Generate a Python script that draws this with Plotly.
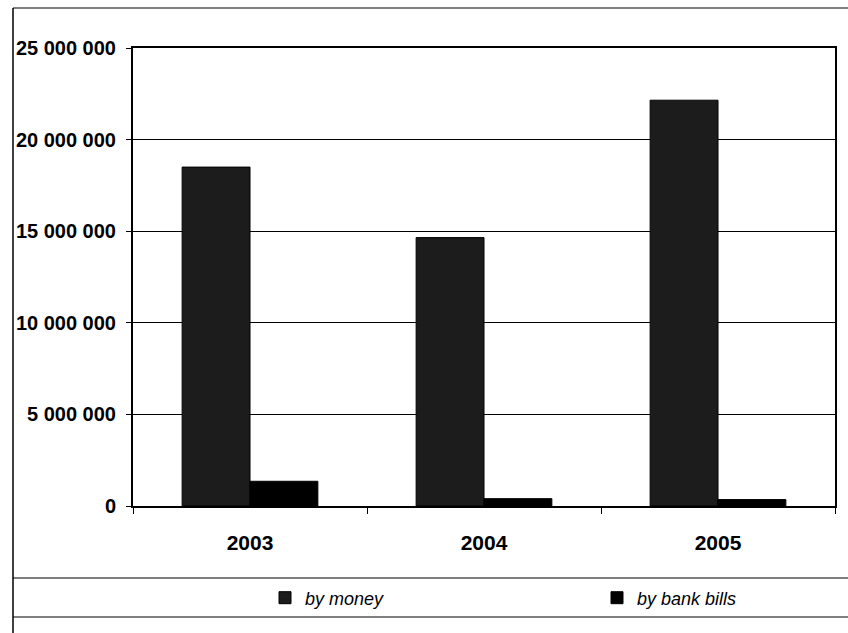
import plotly.graph_objects as go

years = ["2003", "2004", "2005"]
by_money = [18500000, 14650000, 22150000]
by_bank_bills = [1350000, 400000, 350000]
y_tickvals = [0, 5000000, 10000000, 15000000, 20000000, 25000000]
y_ticktext = ["0", "5 000 000", "10 000 000", "15 000 000", "20 000 000", "25 000 000"]

FONT = "Liberation Sans, Arial, sans-serif"

fig = go.Figure()
fig.add_trace(go.Bar(x=years, y=by_money, name="by money", legend="legend", showlegend=True,
                     marker=dict(color="#1c1c1c", line=dict(color="black", width=1))))
fig.add_trace(go.Bar(x=years, y=by_bank_bills, name="by bank bills", legend="legend2", showlegend=True,
                     marker=dict(color="#000000", line=dict(color="black", width=1))))

L, R, T, B = 133, 13, 48, 127
W, H = 848, 633
pw, ph = W - L - R, H - T - B

def px(x):
    return (x - L) / pw

def py(y):
    return (H - B - y) / ph

shapes = [
    dict(type="line", xref="paper", yref="paper", x0=px(13), x1=px(848), y0=py(578), y1=py(578),
         line=dict(color="black", width=1)),
    dict(type="line", xref="paper", yref="paper", x0=px(13), x1=px(848), y0=py(617), y1=py(617),
         line=dict(color="black", width=1)),
    dict(type="line", xref="paper", yref="paper", x0=px(13), x1=px(13), y0=py(8), y1=py(633),
         line=dict(color="black", width=1.5)),
    dict(type="line", xref="paper", yref="paper", x0=px(13), x1=px(848), y0=py(8), y1=py(8),
         line=dict(color="black", width=1)),
]

leg_common = dict(orientation="h", xanchor="left", yanchor="middle", visible=True,
                  font=dict(size=18, style="italic", color="black", family=FONT),
                  bgcolor="rgba(0,0,0,0)")

fig.update_layout(
    width=W, height=H,
    margin=dict(l=L, r=R, t=T, b=B),
    paper_bgcolor="white", plot_bgcolor="white",
    barmode="group", bargap=0.42, bargroupgap=0,
    font=dict(family=FONT, color="black"),
    shapes=shapes,
    showlegend=True,
    legend=dict(x=px(265), y=py(598), **leg_common),
    legend2=dict(x=px(597), y=py(598), **leg_common),
)
fig.update_yaxes(range=[0, 25000000], tickvals=y_tickvals, ticktext=y_ticktext,
                 showgrid=True, gridcolor="black", gridwidth=1,
                 showline=True, linecolor="black", linewidth=2, mirror=True,
                 ticks="outside", ticklen=5, tickcolor="black",
                 ticklabelstandoff=6,
                 tickfont=dict(size=20, family=FONT, weight="bold"),
                 zeroline=False)
fig.update_xaxes(showline=True, linecolor="black", linewidth=2, mirror=True,
                 ticks="outside", tickson="boundaries", ticklen=6, tickcolor="black",
                 ticklabelstandoff=17,
                 tickfont=dict(size=21, family=FONT, weight="bold"))

fig.write_html("out.html")
